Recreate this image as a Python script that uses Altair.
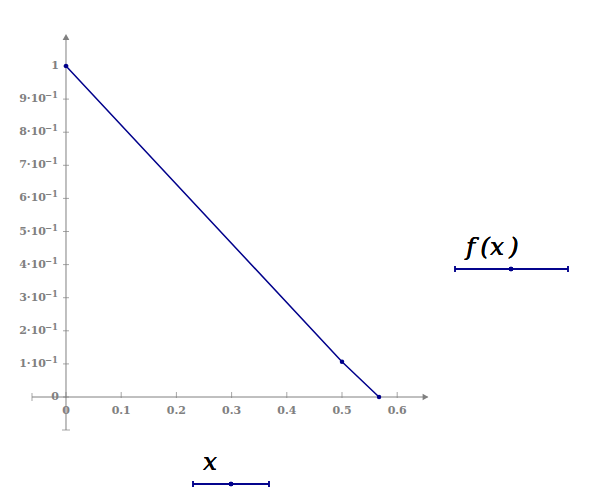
import altair as alt
import pandas as pd

# data: f(x) = exp(-x) - x sampled points
x_vals = [0.0, 0.5, 0.5671]
f_vals = [1.0, 0.1065, 0.0]

x_ticks = [0.0, 0.1, 0.2, 0.3, 0.4, 0.5, 0.6]
x_tick_labels = ["0", "0.1", "0.2", "0.3", "0.4", "0.5", "0.6"]
y_ticks = [0.0, 0.1, 0.2, 0.3, 0.4, 0.5, 0.6, 0.7, 0.8, 0.9, 1.0]
y_tick_labels = ["0", "1·10", "2·10", "3·10", "4·10", "5·10",
                 "6·10", "7·10", "8·10", "9·10", "1"]
y_tick_exps = ["", "−1", "−1", "−1", "−1", "−1", "−1", "−1", "−1", "−1", ""]

x_axis_span = [-0.0616, 0.655]
y_axis_span = [-0.0997, 1.085]

W, H = 578, 480
xs = alt.Scale(domain=[-0.10507, 0.94203], nice=False, zero=False)
ys = alt.Scale(domain=[-0.27492, 1.17523], nice=False, zero=False)
GRAY = "#808080"
NAVY = "#00008B"
FONT = "DejaVu Serif"

def X(field):
    return alt.X(field, type="quantitative", scale=xs, axis=None)

def Y(field):
    return alt.Y(field, type="quantitative", scale=ys, axis=None)

series = pd.DataFrame({"x": x_vals, "y": f_vals})
xt = pd.DataFrame({"x": x_ticks, "y": [0.0] * len(x_ticks), "label": x_tick_labels})
yt = pd.DataFrame({"x": [0.0] * len(y_ticks), "y": y_ticks,
                   "label": y_tick_labels, "exp": y_tick_exps})
xaxis = pd.DataFrame({"x": [x_axis_span[0]], "x2": [x_axis_span[1]], "y": [0.0]})
yaxis = pd.DataFrame({"x": [0.0], "y": [y_axis_span[0]], "y2": [y_axis_span[1]]})
arrows = pd.DataFrame({"x": [0.0, 0.6513], "y": [1.0876, 0.0],
                       "shape": ["triangle-up", "triangle-right"]})
xcap = pd.DataFrame({"x": [x_axis_span[0]], "y": [0.0]})
ycap = pd.DataFrame({"x": [0.0], "y": [y_axis_span[0]]})

xaxis_line = alt.Chart(xaxis).mark_rule(color=GRAY, strokeWidth=1).encode(
    x=X("x"), x2="x2", y=Y("y"))
yaxis_line = alt.Chart(yaxis).mark_rule(color=GRAY, strokeWidth=1).encode(
    x=X("x"), y=Y("y"), y2="y2")
arrow_marks = alt.Chart(arrows).mark_point(filled=True, color=GRAY, size=45, opacity=1).encode(
    x=X("x"), y=Y("y"),
    shape=alt.Shape("shape:N", scale=None, legend=None))
xcap_mark = alt.Chart(xcap).mark_tick(orient="vertical", color=GRAY, size=8, thickness=1).encode(
    x=X("x"), y=Y("y"))
ycap_mark = alt.Chart(ycap).mark_tick(orient="horizontal", color=GRAY, size=8, thickness=1).encode(
    x=X("x"), y=Y("y"))
xtick_marks = alt.Chart(xt).mark_tick(orient="vertical", color=GRAY, size=6, thickness=1, yOffset=-2).encode(
    x=X("x"), y=Y("y"))
ytick_marks = alt.Chart(yt).mark_tick(orient="horizontal", color=GRAY, size=6, thickness=1).encode(
    x=X("x"), y=Y("y"))
xtick_text = alt.Chart(xt).mark_text(color=GRAY, font=FONT, fontWeight="bold", fontSize=11,
                                     align="center", baseline="top", dy=8).encode(
    x=X("x"), y=Y("y"), text="label:N")
ytick_plain = alt.Chart(yt).transform_filter(alt.datum.exp == "").mark_text(
    color=GRAY, font=FONT, fontWeight="bold", fontSize=11,
    align="right", baseline="middle", dx=-7).encode(
    x=X("x"), y=Y("y"), text="label:N")
ytick_main = alt.Chart(yt).transform_filter(alt.datum.exp != "").mark_text(
    color=GRAY, font=FONT, fontWeight="bold", fontSize=11,
    align="right", baseline="middle", dx=-20).encode(
    x=X("x"), y=Y("y"), text="label:N")
ytick_exp = alt.Chart(yt).transform_filter(alt.datum.exp != "").mark_text(
    color=GRAY, font=FONT, fontWeight="bold", fontSize=8.5,
    align="right", baseline="middle", dx=-8, dy=-4).encode(
    x=X("x"), y=Y("y"), text="exp:N")

line = alt.Chart(series).mark_line(color=NAVY, strokeWidth=1.5).encode(x=X("x"), y=Y("y"))
pts = alt.Chart(series).mark_point(filled=True, color=NAVY, size=20, opacity=1).encode(
    x=X("x"), y=Y("y"))

# trace labels
fx_text = alt.Chart(series).mark_text(text="f\u2009(x\u2009)", font=FONT, fontStyle="italic",
                                      fontSize=25, color="black", align="left",
                                      baseline="alphabetic").encode(
    x=alt.value(458), y=alt.value(247))
fx_line = alt.Chart(series).mark_rule(color=NAVY, strokeWidth=1.5).encode(
    x=alt.value(447), x2=alt.value(560), y=alt.value(261))
fx_caps = alt.Chart(series).mark_rule(color=NAVY, strokeWidth=1.2).encode(
    x=alt.value(447), y=alt.value(258), y2=alt.value(264))
fx_caps2 = alt.Chart(series).mark_rule(color=NAVY, strokeWidth=1.2).encode(
    x=alt.value(560), y=alt.value(258), y2=alt.value(264))
fx_dot = alt.Chart(series).mark_point(filled=True, color=NAVY, size=20, opacity=1).encode(
    x=alt.value(503), y=alt.value(261))

x_text = alt.Chart(series).mark_text(text="x", font=FONT, fontStyle="italic",
                                     fontSize=25, color="black", align="left",
                                     baseline="alphabetic").encode(
    x=alt.value(195), y=alt.value(462))
x_line = alt.Chart(series).mark_rule(color=NAVY, strokeWidth=1.5).encode(
    x=alt.value(185), x2=alt.value(261), y=alt.value(476))
x_caps = alt.Chart(series).mark_rule(color=NAVY, strokeWidth=1.2).encode(
    x=alt.value(185), y=alt.value(473), y2=alt.value(479))
x_caps2 = alt.Chart(series).mark_rule(color=NAVY, strokeWidth=1.2).encode(
    x=alt.value(261), y=alt.value(473), y2=alt.value(479))
x_dot = alt.Chart(series).mark_point(filled=True, color=NAVY, size=20, opacity=1).encode(
    x=alt.value(223), y=alt.value(476))

chart = alt.layer(
    xaxis_line, yaxis_line, arrow_marks, xcap_mark, ycap_mark, xtick_marks, ytick_marks,
    xtick_text, ytick_plain, ytick_main, ytick_exp, line, pts,
    fx_text, fx_line, fx_caps, fx_caps2, fx_dot,
    x_text, x_line, x_caps, x_caps2, x_dot,
).properties(
    width=W, height=H, padding=0, autosize=alt.AutoSizeParams(type="none")
).configure_view(stroke=None)

chart.save("out.html", embed_options={"renderer": "svg", "actions": False})
